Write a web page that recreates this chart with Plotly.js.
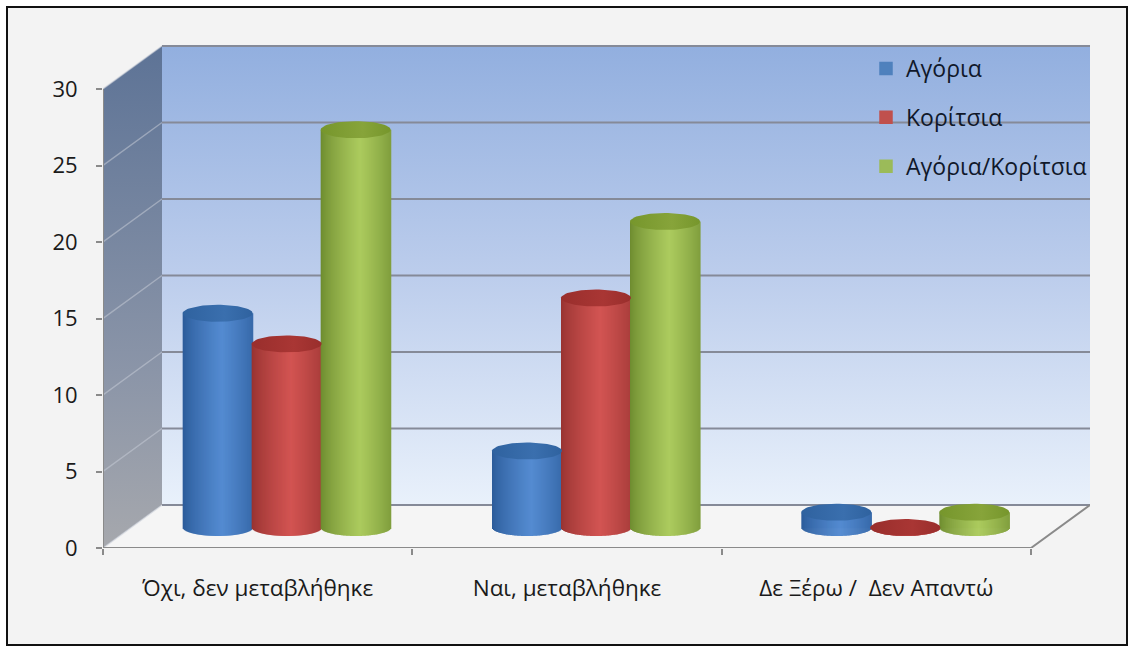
<!DOCTYPE html>
<html><head><meta charset="utf-8">
<script src="https://cdn.plot.ly/plotly-3.0.1.min.js"></script>
<style>html,body{margin:0;padding:0;background:#fff}#c{width:1134px;height:652px}</style>
</head><body><div id="c"></div>
<script>
const categories = ["Όχι, δεν μεταβλήθηκε", "Ναι, μεταβλήθηκε", "Δε Ξέρω /  Δεν Απαντώ"];
const boys = [14, 5, 1];
const girls = [12, 15, 0];
const both = [26, 20, 1];
const seriesNames = ["Αγόρια", "Κορίτσια", "Αγόρια/Κορίτσια"];
const yTicks = [0, 5, 10, 15, 20, 25, 30];

const seriesValues = [boys, girls, both];
const FONT = '"Open Sans","Noto Sans",sans-serif';
// geometry of the pseudo-3D box, expressed in axis units
const pxPerCat = 309.33, pxPerUnit = 15.3;
const L = 103, T = 45, R = 1090, B = 548, W = 1134, H = 652;
const xMin = -0.5, xFront = 2.5, depthX = 59 / pxPerCat, depthY = 43 / pxPerUnit;
const xMax = xFront + depthX, yMax = (B - T) / pxPerUnit;
const yBase = 20.5 / pxPerUnit, ry = 8.5 / pxPerUnit;
const barW = 70 / pxPerCat, step = 69 / pxPerCat, groupShift = 29 / pxPerCat, inset = 1.5 / pxPerCat;
const palette = [
  {solid:'#4f81bd', edge:[42,90,152],  mid:[84,139,209],  cap:['#2f629f','#3a6fae']},
  {solid:'#c0504d', edge:[150,50,48],  mid:[210,84,82],   cap:['#992e2c','#a93634']},
  {solid:'#9bbb59', edge:[108,138,46], mid:[172,203,94],  cap:['#76962c','#87a43a']}
];
const pxp = p => (p - L) / (R - L), pyp = p => (B - p) / (B - T);
function mix(a, b, k){ return 'rgb(' + a.map((v,i)=>Math.round(v + (b[i]-v)*k)).join(',') + ')'; }

const traces = [];
// ---- box (main axes)
traces.push({type:'scatter', mode:'lines', x:[xMin,xMin+depthX,xMin+depthX,xMin], y:[30,30+depthY,depthY,0],
  fill:'toself', line:{width:0}, hoverinfo:'skip', showlegend:false,
  fillgradient:{type:'vertical', colorscale:[[0,'#a6a8ad'],[0.35,'#8b95a8'],[1,'#5d7396']]}});
traces.push({type:'scatter', mode:'lines', x:[xMin+depthX,xMax,xMax,xMin+depthX], y:[depthY,depthY,30+depthY,30+depthY],
  fill:'toself', line:{width:0}, hoverinfo:'skip', showlegend:false,
  fillgradient:{type:'vertical', colorscale:[[0,'#e9f1fb'],[0.5,'#bccdec'],[1,'#92afdf']]}});
traces.push({type:'scatter', mode:'lines', x:[xMin,xMin+depthX,xMax,xFront,xMin], y:[0,depthY,depthY,0,0],
  fill:'toself', fillcolor:'#f5f5f5', line:{width:0}, hoverinfo:'skip', showlegend:false});
yTicks.forEach(v=>{
  traces.push({type:'scatter', mode:'lines', x:[xMin,xMin+depthX], y:[v,v+depthY], cliponaxis:false,
    line:{color:'rgba(196,202,214,0.55)', width:1.5}, hoverinfo:'skip', showlegend:false});
  traces.push({type:'scatter', mode:'lines', x:[xMin+depthX,xMax], y:[v+depthY,v+depthY], cliponaxis:false,
    line:{color:'#858a98', width:2}, hoverinfo:'skip', showlegend:false});
});
traces.push({type:'scatter', mode:'lines', x:[xMin,xMin,null,xMin,xFront,xMax], y:[30,0,null,0,0,depthY], cliponaxis:false,
  line:{color:'#8a8a8a', width:2}, hoverinfo:'skip', showlegend:false});

// ---- series (overlay axes, so that they sit above the box)
const catIdx = categories.map((_,i)=>i);
seriesValues.forEach((vals,s)=>{
  const off = groupShift + (s-1)*step - barW/2;
  traces.push({type:'bar', name:seriesNames[s], xaxis:'x2', yaxis:'y2', x:catIdx, y:vals,
    base:yBase, offset:off+inset, width:barW-2*inset, marker:{color:palette[s].solid, line:{width:1.5, color:palette[s].solid}},
    legendgroup:'g'+s, showlegend:true, hoverinfo:'skip'});
});
seriesValues.forEach((vals,s)=>{
  const off = groupShift + (s-1)*step - barW/2, N = 70, sw = barW/N;
  const xs=[], ys=[], bs=[], os=[], ws=[], cs=[];
  vals.forEach((v,c)=>{
    for(let i=0;i<N;i++){
      const t=(i+0.5)/N, u=2*t-1;
      const k=Math.pow(Math.max(0,1-Math.abs(t-0.56)/0.56),0.75);
      const lower=yBase-ry*Math.sqrt(1-u*u);
      xs.push(c); bs.push(lower); ys.push(yBase+v-lower);
      os.push(off+i*sw); ws.push(sw*1.6); cs.push(mix(palette[s].edge,palette[s].mid,k));
    }
  });
  traces.push({type:'bar', xaxis:'x2', yaxis:'y2', x:xs, y:ys, base:bs, offset:os, width:ws,
    marker:{color:cs, line:{width:0}}, showlegend:false, hoverinfo:'skip'});
});
seriesValues.forEach((vals,s)=>{
  vals.forEach((v,c)=>{
    const cx=c+groupShift+(s-1)*step, ex=[], ey=[];
    for(let a=0;a<=72;a++){
      const th=a/72*2*Math.PI;
      ex.push(cx+barW/2*Math.cos(th)); ey.push(yBase+v+ry*Math.sin(th));
    }
    traces.push({type:'scatter', mode:'lines', xaxis:'x2', yaxis:'y2', x:ex, y:ey, fill:'toself',
      line:{width:0}, hoverinfo:'skip', showlegend:false,
      fillgradient:{type:'horizontal', colorscale:[[0,palette[s].cap[0]],[0.6,palette[s].cap[1]],[1,palette[s].cap[0]]]}});
  });
});

const layout = {
  width:W, height:H, autosize:false,
  margin:{l:L, r:W-R, t:T, b:H-B, pad:0},
  paper_bgcolor:'#ffffff', plot_bgcolor:'rgba(0,0,0,0)',
  barmode:'overlay', font:{family:FONT, color:'#1a1a1a'},
  xaxis:{range:[xMin,xMax], fixedrange:true, showgrid:false, zeroline:false, showline:false,
    tickmode:'array', tickvals:catIdx, ticktext:categories, ticks:'', ticklabelstandoff:24,
    tickfont:{family:FONT, size:22.5, color:'#1a1a1a'},
    minor:{tickmode:'array', tickvals:[-0.5,0.5,1.5,2.5], ticks:'outside', ticklen:6, tickwidth:2, tickcolor:'#8a8a8a', showgrid:false}},
  yaxis:{range:[0,yMax], fixedrange:true, showgrid:false, zeroline:false, showline:false,
    tickmode:'array', tickvals:yTicks, ticks:'outside', ticklen:6, tickwidth:2, tickcolor:'#8a8a8a', ticklabelstandoff:14,
    tickfont:{family:FONT, size:22, color:'#1a1a1a'}},
  xaxis2:{overlaying:'x', range:[xMin,xMax], visible:false, fixedrange:true},
  yaxis2:{overlaying:'y', range:[0,yMax], visible:false, fixedrange:true},
  legend:{x:pxp(866), y:pyp(47), xanchor:'left', yanchor:'top', bgcolor:'rgba(0,0,0,0)', borderwidth:0,
    font:{family:FONT, size:23, color:'#10182a'}, tracegroupgap:16, itemclick:false, itemdoubleclick:false},
  showlegend:true,
  shapes:[{type:'rect', xref:'paper', yref:'paper', layer:'below',
    x0:pxp(7), x1:pxp(1127), y0:pyp(645), y1:pyp(7), fillcolor:'#f3f3f3', line:{color:'#111', width:2}}]
};
Plotly.newPlot('c', traces, layout, {displayModeBar:false, staticPlot:true});
</script></body></html>
